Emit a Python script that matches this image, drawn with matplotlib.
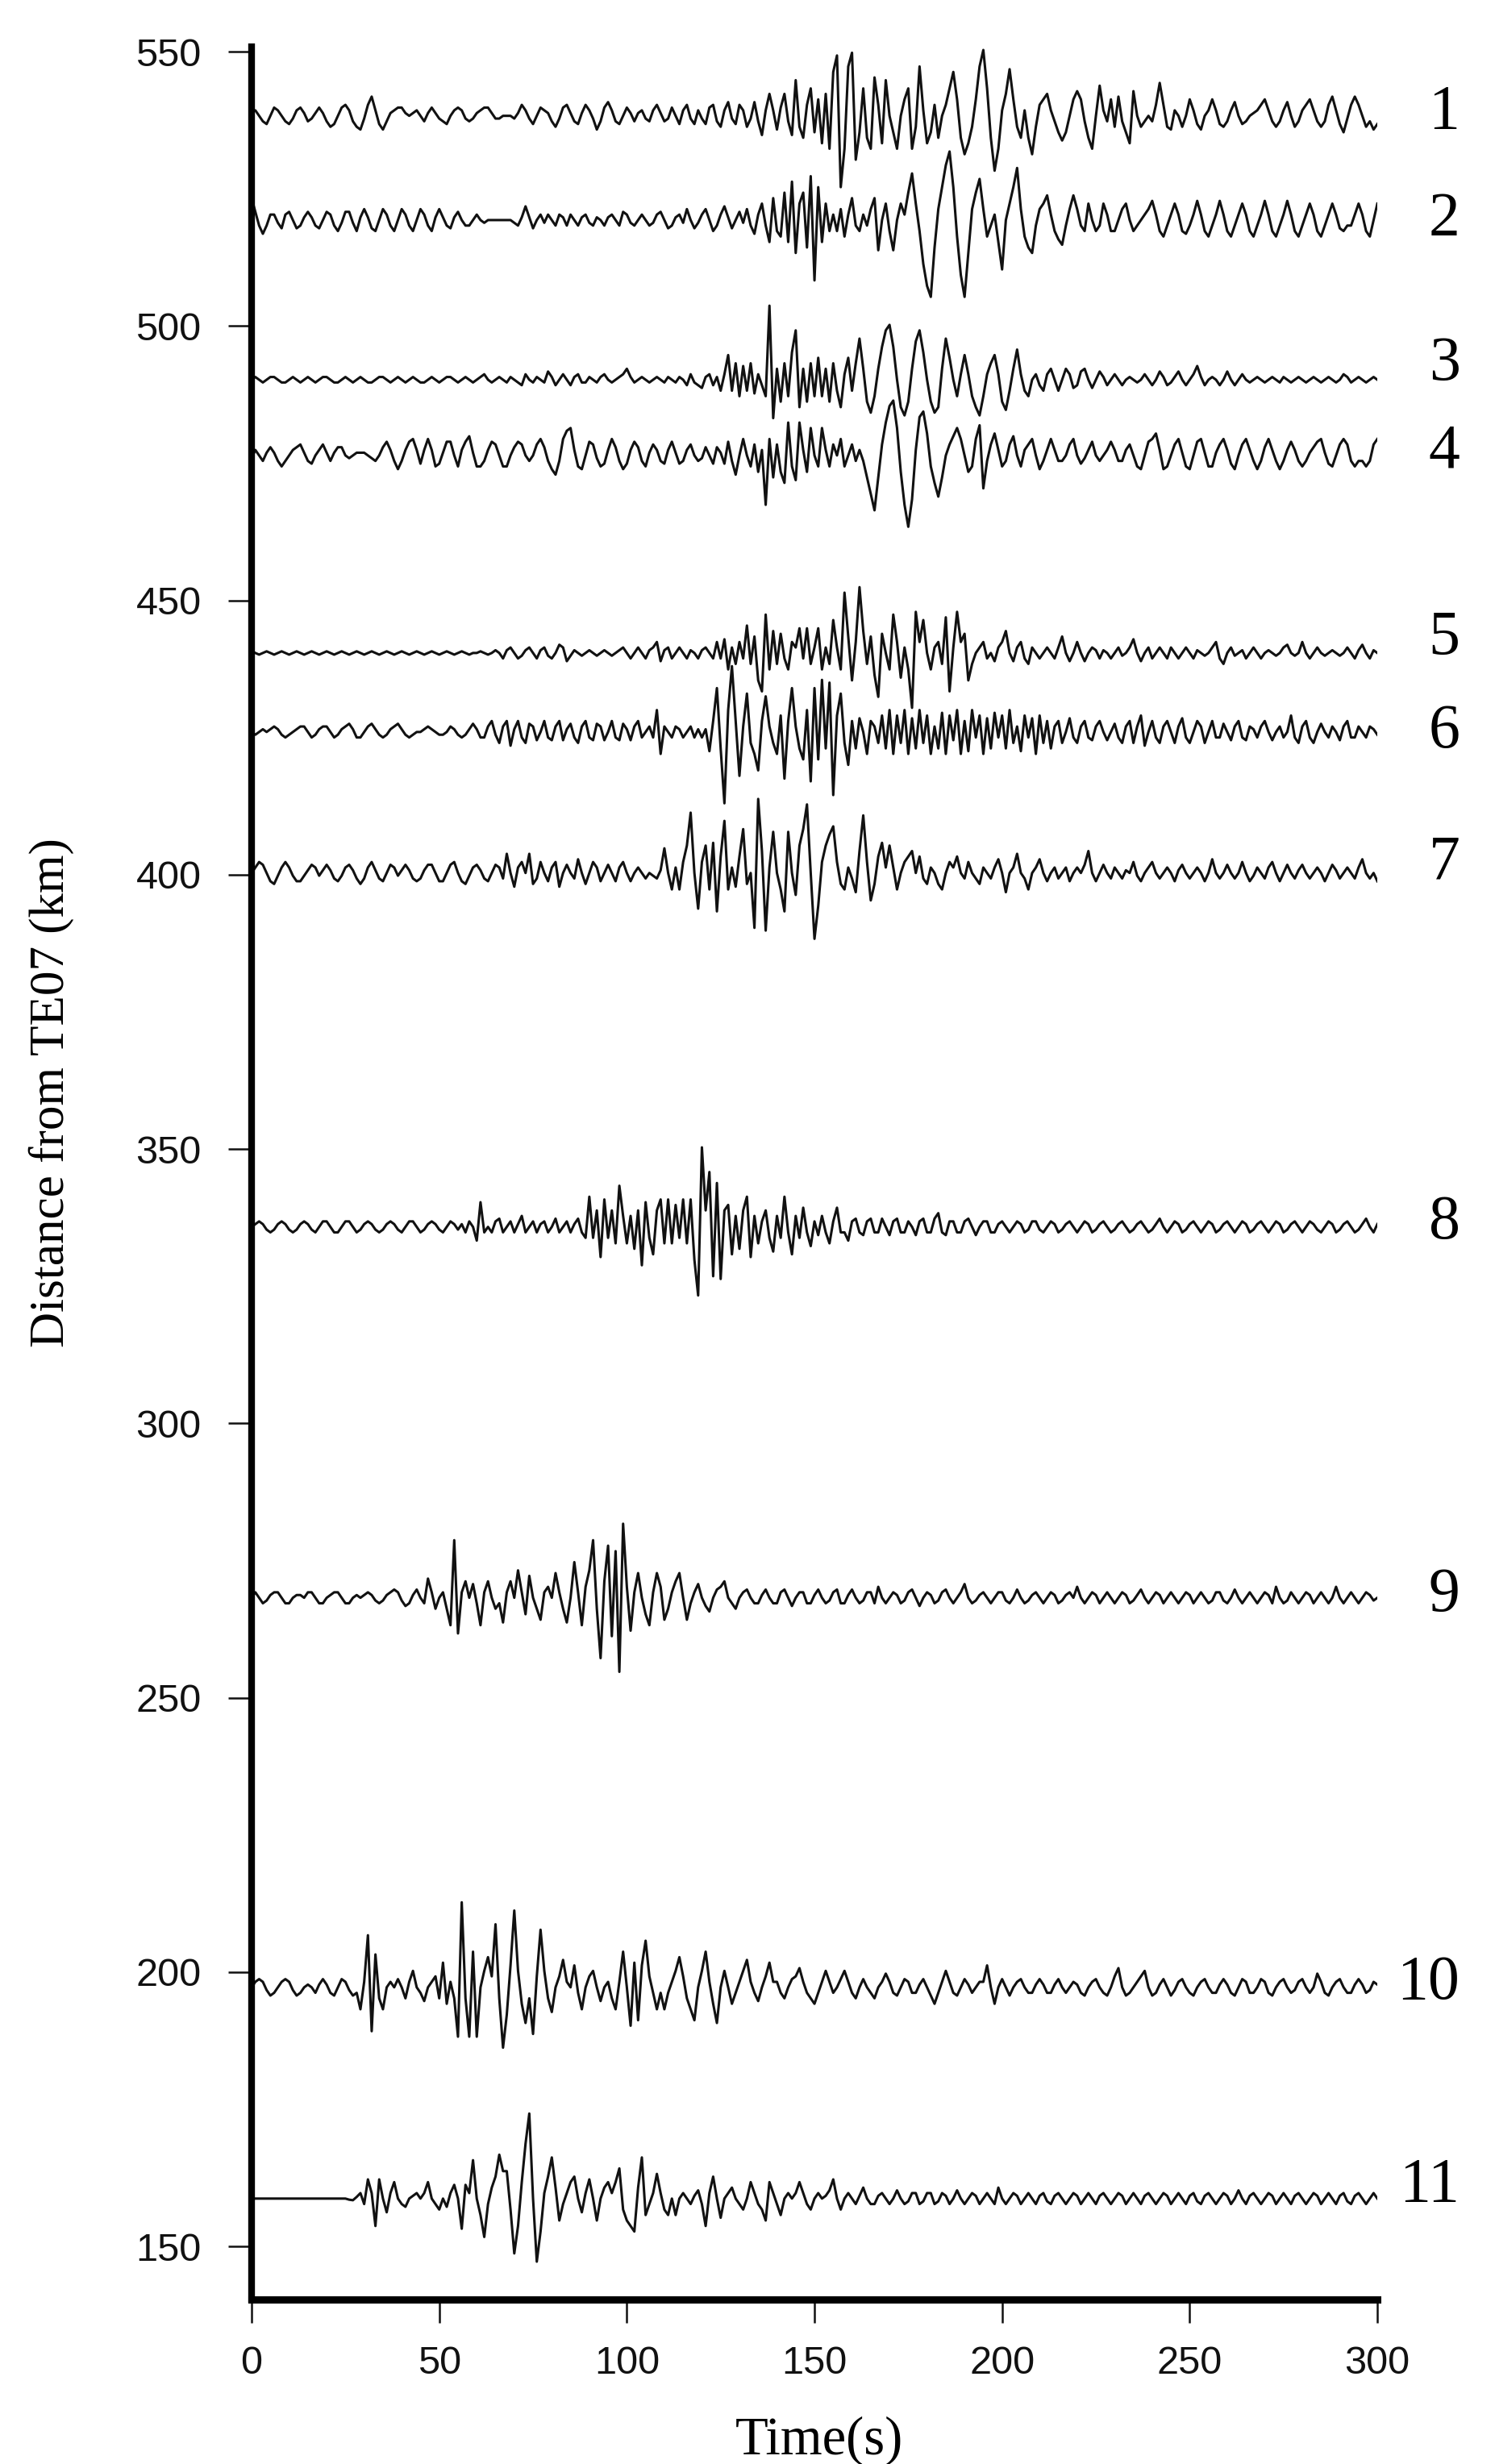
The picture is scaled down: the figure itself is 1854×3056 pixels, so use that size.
import numpy as np
import matplotlib
matplotlib.use("Agg")
import matplotlib.pyplot as plt

# station baselines (km) and label positions
offsets = [538.3, 519.3, 490.2, 476.4, 440.4, 426.0, 400.3, 335.8, 268.2, 197.2, 158.7]
names = ['1', '2', '3', '4', '5', '6', '7', '8', '9', '10', '11']
name_y = [538.8, 519.3, 493.0, 477.0, 443.0, 426.0, 402.0, 336.5, 268.6, 197.9, 161.0]

xticks = [0, 50, 100, 150, 200, 250, 300]
yticks = [150, 200, 250, 300, 350, 400, 450, 500, 550]

# trace deflections (km), one sample per second, t = 0..300 s
tr1 = [0.5, 1, 0, -1, -1.5, 0, 1.5, 1, 0, -1,
       -1.5, -0.5, 1, 1.5, 0.5, -1, -0.5, 0.5, 1.5, 0.5,
       -1, -2, -1.5, 0, 1.5, 2, 1, -1, -2, -2.5,
       -0.5, 2, 3.5, 1, -1.5, -2.5, -1, 0.5, 1, 1.5,
       1.5, 0.5, 0, 0.5, 1, 0, -1, 0.5, 1.5, 0.5,
       -0.5, -1, -1.5, 0, 1, 1.5, 1, -0.5, -1, -0.5,
       0.5, 1, 1.5, 1.5, 0.5, -0.5, -0.5, 0, 0, 0,
       -0.5, 0.5, 2, 1, -0.5, -1.5, 0, 1.5, 1, 0.5,
       -1, -2, -0.5, 1.5, 2, 0.5, -1, -1.5, 0.5, 2,
       1, -0.5, -2.5, -1, 1.5, 2.5, 1, -1, -1.5, 0,
       1.5, 0.5, -1, 0.5, 1, -0.5, -1, 1, 2, 0.5,
       -1, -0.5, 1.5, 0, -1.5, 1, 2, -0.5, -1.5, 1,
       -0.5, -1.5, 1.5, 2, -1, -2, 1, 2.5, -0.5, -1.5,
       2, 1, -2, -0.5, 2.5, -1, -3.5, 1, 4, 1,
       -2.5, 1.5, 4, -1, -3.5, 6.5, -2, -4, 2, 5,
       -3, 3, -5, 4, -6, 8, 11, -13, -6, 9,
       11.5, -8, -3, 5, -4, -6, 7, 2, -5, 6.5,
       0, -3, -6, 0, 3, 5, -6, -2, 9, 1,
       -5, -3, 2, -4, 0, 2, 5, 8, 3, -4,
       -7, -5, -2, 3, 9, 12, 5, -4, -10, -6,
       1, 4, 8.5, 3, -2, -4, 1, -4, -7, -2,
       2, 3, 4, 1, -1, -3, -4.5, -3, 0, 3,
       4.5, 3, -1, -4, -6, 0, 5.5, 1, -1, 3,
       -2, 3.5, -1, -3, -5, 4.5, 0, -2, -1, 0,
       -1, 2, 6, 2, -2, -2.5, 1, 0, -2, 0,
       3, 1, -1.5, -2.5, 0, 1, 3, 1, -1.5, -2,
       -1, 1, 2.5, 0, -1.5, -1, 0, 0.5, 1, 2,
       3, 1, -1, -2, -1, 1, 2.5, 0, -2, -1,
       1, 2, 3, 1, -1, -2, -1, 2, 3.5, 1,
       -1.5, -3, -0.5, 2, 3.5, 2, 0, -2, -1, -2.5,
       -1.5]

tr2 = [4, 1.5, -1, -2.5, -1, 1, 1, -0.5, -1.5, 1,
       1.5, 0, -1.5, -1, 0.5, 1.5, 0.5, -1, -1.5, 0,
       1.5, 1, -1, -2, -0.5, 1.5, 1.5, -0.5, -2, 0.5,
       2, 0.5, -1.5, -2, 0, 2, 1, -1, -2, 0,
       2, 1, -1, -2, 0, 2, 1, -1, -2, 0.5,
       2, 0.5, -1, -1.5, 0.5, 1.5, 0, -1, -1, 0,
       1, 0, -0.5, 0, 0, 0, 0, 0, 0, 0,
       -0.5, -1, 0.5, 2.5, 0.5, -1.5, 0, 1, -0.5, 1,
       0, -1, 1, 0.5, -1, 1, 0, -1, 0.5, 1,
       -0.5, -1, 0.5, 0, -1, 0.5, 1, 0, -1, 1.5,
       1, -0.5, -1, 0, 1, 0, -1, -0.5, 1, 1.5,
       0, -1.5, -1, 0.5, 1, -0.5, 2, 0, -1.5, -0.5,
       1, 2, 0, -2, -1, 1, 2.5, 0.5, -1.5, 0,
       1.5, -0.5, 2, -1, -2.5, 1, 3, -1, -4, 4,
       -2, -3, 5, -4, 7, -6, 3, 5, -5, 8,
       -11, 6, -4, 3, -2, 1, -2, 2, -3, 1,
       4, -1, -2, 1, -1, 2, 4, -5.5, 0, 3,
       -2, -5.5, 0, 3, 1, 5, 8.5, 3, -2, -8,
       -12, -14, -5, 2, 6, 10, 12.5, 6, -3, -10,
       -14, -6, 2, 5, 7.5, 2, -3, -1, 1, -4,
       -9, 0, 3, 6, 9.5, 2, -3, -5, -6, -1,
       2, 3, 4.5, 1, -2, -3.5, -4.5, -1, 2, 4.5,
       2, -1, -2, 3, 0, -2, -1, 3, 1, -2,
       -2, 0, 2, 3, 0, -2, -1, 0, 1, 2,
       3.5, 1, -2, -3, -1, 1, 3, 1, -2, -2.5,
       -1, 1, 3.5, 1, -2, -3, -1, 1, 3.5, 1,
       -2, -3, -1, 1, 3, 1, -2, -3, -1, 1,
       3.5, 1, -2, -3, -1, 1, 3.5, 1, -2, -3,
       -1, 1, 3, 1, -2, -3, -1, 1, 3, 1,
       -1.5, -2, -1, -1, 1, 3, 1, -2, -3, 0,
       3]

tr3 = [0, 0.5, 0, -0.5, 0, 0.5, 0.5, 0, -0.5, -0.5,
       0, 0.5, 0, -0.5, 0, 0.5, 0, -0.5, 0, 0.5,
       0.5, 0, -0.5, -0.5, 0, 0.5, 0, -0.5, 0, 0.5,
       0, -0.5, -0.5, 0, 0.5, 0.5, 0, -0.5, 0, 0.5,
       0, -0.5, 0, 0.5, 0, -0.5, -0.5, 0, 0.5, 0,
       -0.5, 0, 0.5, 0.5, 0, -0.5, 0, 0.5, 0, -0.5,
       0, 0.5, 1, 0, -0.5, 0, 0.5, 0, -0.5, 0.5,
       0, -0.5, -1, 1, 0, -0.5, 0.5, 0, -0.5, 1.5,
       0.5, -1, 0, 1, 0, -1, 0.5, 1, -0.5, -0.5,
       0.5, 0, -0.5, 0.5, 1, 0, -0.5, 0, 0.5, 1,
       2, 0.5, -0.5, 0, 0.5, 0, -0.5, 0, 0.5, 0,
       -0.5, 0.5, 0, -0.5, 0.5, 0, -1, 1, -0.5, -1,
       -1.5, 0.5, 1, -1, 0.5, -2, 1, 4.5, -2, 3,
       -3, 2.5, -2, 3, -2.5, 1, -1, -3, 13.5, -7,
       2, -4, 3, -3, 5, 9, -5, 2, -4, 3,
       -3, 4, -3, 2, -4, 3, -2, -5, 1, 4,
       -2, 3, 7.5, 2, -4, -6, -3, 2, 6, 9,
       10, 6, 0, -5, -6.5, -4, 2, 7, 9, 5,
       0, -4, -6, -5, 2, 7.5, 4, 0, -3, 1,
       4.5, 1, -3, -5, -6.5, -3, 1, 3, 4.5, 1,
       -4, -5.5, -2, 2, 5.5, 1, -2, -3, 0, 1,
       -1, -2, 1, 2, 0, -2, 0, 2, 1, -1.5,
       -1, 1.5, 2, 0, -1.5, 0, 1.5, 0.5, -1, 0,
       1, 0, -1, 0, 0.5, 0, -0.5, 0, 1, 0,
       -1, 0, 1.5, 0.5, -1, -0.5, 0.5, 1.5, 0, -1,
       0, 1, 2.5, 0.5, -1, 0, 0.5, 0, -1, 0,
       1.5, 0, -1, 0, 1, 0, -0.5, 0, 0.5, 0,
       -0.5, 0, 0.5, 0, -0.5, 0.5, 0, -0.5, 0, 0.5,
       0, -0.5, 0, 0.5, 0, -0.5, 0, 0.5, 0, -0.5,
       0, 1, 0.5, -0.5, 0, 0.5, 0, -0.5, 0, 0.5,
       0]

tr4 = [-0.5, 1, 0, -1, 0.5, 1.5, 0.5, -1, -2, -1,
       0, 1, 1.5, 2, 0.5, -1, -1.5, 0, 1, 2,
       0.5, -1, 0.5, 1.5, 1.5, 0, -0.5, 0, 0.5, 0.5,
       0.5, 0, -0.5, -1, 0, 1.5, 2.5, 1, -1, -2.5,
       -1, 1, 2.5, 3, 1, -1.5, 1, 3, 1, -2,
       -1.5, 0.5, 2.5, 2.5, 0, -2, 1, 2.5, 3.5, 0.5,
       -2, -2, -1, 1, 2.5, 2, 0, -2, -2, 0,
       1.5, 2.5, 2, 0, -1, 0, 2, 3, 1.5, -1,
       -2.5, -3.5, -1, 3, 4.5, 5, 1, -2, -2.5, 0,
       2.5, 2, -0.5, -2, -1.5, 1, 3, 1.5, -1, -2.5,
       -1.5, 1, 2.5, 1.5, -1, -2, 0.5, 2, 1, -1,
       -1.5, 1, 2.5, 0.5, -1.5, -1, 1, 2, 0, -1,
       -0.5, 1.5, 0, -1.5, 1.5, 0.5, -1.5, 2.5, -1, -3.5,
       0, 3, 0, -2, 2, -3, 1, -9, 3, -4,
       2, -3, -5, 6, -2, -4.5, 6, 1, -3, 5,
       0, -2, 5, 1, -2, 2, 0, 3, -2, 0,
       2, -1, 1, -1, -4, -7, -10, -4, 2, 6,
       9, 10, 5, -3, -9, -13, -8, 1, 7, 8,
       4, -2, -5, -7.5, -4, 0, 2, 3.5, 5, 3,
       0, -3, -2, 3, 5.5, -6, -1, 2, 4, 1,
       -2, -1, 2, 3.5, 0, -2, 1, 2, 3, 0,
       -2.5, -1, 1, 3, 1, -1, -1, 0, 2, 3,
       0, -1.5, -0.5, 1, 2.5, 0, -1, 0, 1, 2.5,
       1, -1, -1, 1, 2, 0, -2, -2.5, 0, 2.5,
       3, 4, 1, -2.5, -2, 0, 2, 3, 0.5, -2,
       -2.5, 0, 2.5, 3, 0.5, -2, -2, 0.5, 2, 3,
       1, -1.5, -2.5, 0, 2, 3, 1, -1, -2.5, -1,
       1.5, 3, 1, -1, -2.5, -1, 1, 2.5, 1, -1,
       -2, -1, 0.5, 1.5, 2.5, 3, 0.5, -1.5, -2, 0,
       2, 3, 2, -1, -2, -1, -1, -2, -1, 2,
       3]

tr5 = [0.3, 0, -0.3, 0, 0.3, 0, -0.3, 0, 0.3, 0,
       -0.3, 0, 0.3, 0, -0.3, 0, 0.3, 0, -0.3, 0,
       0.3, 0, -0.3, 0, 0.3, 0, -0.3, 0, 0.3, 0,
       -0.3, 0, 0.3, 0, -0.3, 0, 0.3, 0, -0.3, 0,
       0.3, 0, -0.3, 0, 0.3, 0, -0.3, 0, 0.3, 0,
       -0.3, 0, 0.3, 0, -0.3, 0, 0.3, 0, -0.3, 0,
       0, 0.3, 0, -0.3, 0, 0.5, 0, -1, 0.5, 1,
       0, -1, -0.5, 0.5, 1, 0, -1, 0.5, 1, -0.5,
       -1, 0, 1.5, 1, -1.5, -0.5, 0.5, 0, -0.5, 0,
       0.5, 0, -0.5, 0, 0.5, 0, -0.5, 0, 0.5, 1,
       0, -1, 0, 1, 0, -1, 0.5, 1, 2, -1.5,
       0.5, 1, -1, 0, 1, 0, -1, 0.5, 0, -1,
       0.5, 1, 0, -1, 2, -1, 2.5, -3, 1, -2,
       2, -1, 5, -2, 3, -5, -7, 7, -3, 4,
       -2, 3.5, -1, -3, 2, 1, 4.5, -1, 4.5, -2,
       1, 4.5, -3, 1, -2, 6, 1, -3, 11, 3,
       -5, 2, 12, 4, -2, 3, -4, -8, 3.5, 0,
       -3, 7, 2, -4.5, 1, -3, -10, 7.5, 2, 6,
       0, -3, 1, 2, -2, 6.5, -7, 1, 7.5, 2,
       3.5, -5, -2, 0, 1, 2, -1, 0, -1.5, 1,
       2, 4, 0, -1.5, 1, 2, -1, -2, 1, 0,
       -1, 0, 1, 0, -1, 1, 3, 0, -1.5, 0,
       2, 0, -1.5, 0, 1, 0.5, -1, 0.5, 0, -1,
       0, 1, -0.5, 0, 1, 2.5, 0, -1.5, 0, 1,
       -1, 0, 1, 0, -1, 1, 0, -1, 0, 1,
       0, -1, 0.5, 0, -0.5, 0, 1, 2, -1, -2,
       0, 1, -0.5, 0, 0.5, -1, 0, 1, 0, -1,
       0, 0.5, 0, -0.5, 0, 1, 1.5, 0, -0.5, 0,
       2, 0, -1, 0, 1, 0, -0.5, 0, 0.5, 0,
       -0.5, 0, 1, 0, -1, 0.5, 1.5, 0, -1, 0.5,
       0]

tr6 = [0, -0.5, 0, 0.5, 0, 0.5, 1, 0.5, -0.5, -1,
       -0.5, 0, 0.5, 1, 1, 0, -1, -0.5, 0.5, 1,
       1, 0, -1, -0.5, 0.5, 1, 1.5, 0.5, -1, -1,
       0, 1, 1.5, 0.5, -0.5, -1, -0.5, 0.5, 1, 1.5,
       0.5, -0.5, -1, -0.5, 0, 0, 0.5, 1, 0.5, 0,
       -0.5, -0.5, 0, 1, 0.5, -0.5, -1, -0.5, 0.5, 1.5,
       0.5, -1, -1, 1, 2, -0.5, -2, 1, 2, -2.5,
       0.5, 2, -1, -2, 1.5, 1, -1.5, 0, 2, -1,
       -1.5, 1, 2, -1.5, 0.5, 1.5, -1, -2, 1, 2,
       -1, -1.5, 1.5, 1, -1.5, 0, 2, -1, -1.5, 1.5,
       0.5, -1.5, 1, 2, -1, 0, 1, -1, 4, -4,
       1, 0, -1, 1, 0.5, -1, 0, 1, -1, 0.5,
       -1, 0.5, -3.5, 2, 8, -3, -13, 4, 12, 2,
       -8, 1, 7, -2, -4, -7, 2, 6.5, 1, -2,
       -4, 3, -8.5, 2, 8, 1, -3, -5, 4, -9,
       8, -5, 9.5, -3, 9, -11.5, 3, 7, -2, -6,
       2, -3, 2.5, 0, -4, 2, 1, -2, 3, -3,
       4, -4, 3, -2, 4, -4, 2.5, -3, 4, -2,
       3, -4, 1, -3, 3.5, -4, 3, -1.5, 4, -4,
       2, -3.5, 4, -1, 3, -4, 2.5, -3, 3.5, -1,
       3, -3, 4, -2, 1, -3.5, 3, -1, 2.5, -4,
       3, -2, 2, -3, 1, 2, -2, 0, 2.5, -1,
       -2, 1, 2, -1, -1.5, 1, 2, 0, -1.5, 0,
       1.5, -1, -2, 1, 2, -2, 1, 3, -2.5, 0,
       2, -1, -2, 1, 2, 0, -2, 1, 2.5, -1,
       -2, 0, 2, 1, -2, 0, 2, -1, -1, 1.5,
       0, -1.5, 1, 2, -1, -1.5, 1, 0.5, -1, 1,
       2, 0, -1.5, 0, 1, -1, 0, 3, -1, -2,
       1, 2, -1, -2, 0, 1.5, 0, -1, 1, 0,
       -1.5, 1, 2, -1, -1, 1, 0, -1, 1, 0.5,
       -0.5]

tr7 = [0, 1, 2, 1.5, 0, -1.5, -2, -0.5, 1, 2,
       1, -0.5, -1.5, -1.5, -0.5, 0.5, 1.5, 1, -0.5, 0.5,
       1.5, 0.5, -1, -1.5, -0.5, 1, 1.5, 0.5, -1, -2,
       -1, 1, 2, 0.5, -1, -1.5, 0, 1.5, 1, -0.5,
       0.5, 1.5, 0.5, -1, -1.5, -1, 0.5, 1.5, 1.5, 0,
       -1.5, -1.5, 0, 1.5, 2, 0, -1.5, -2, -0.5, 1,
       1.5, 0.5, -1, -1.5, 0, 1.5, 1, -1, 3.5, 0,
       -2.5, 1, 2, 0, 3.5, -2, -1, 2, 0, -1.5,
       1, 2, -2.5, 0, 1.5, 0, -1, 2.5, 0, -2,
       0, 2, 1, -1.5, 0, 1.5, 0, -1.5, 1, 2,
       0, -1.5, 0, 1, 0, -1, 0, -0.5, -1, 0.5,
       4.5, 0, -3, 1, -3, 2, 5, 11, 0, -6.5,
       2, 5, -3, 5.5, -7, 3, 9.5, -3, 1, -2.5,
       3, 8, -2, 0, -10, 13.5, 4, -10.5, 1, 7.5,
       0, -3, -7, 7.5, 0, -4, 5, 8, 12.5, 0,
       -12, -6, 2, 5, 7, 8.5, 2, -2, -3, 1,
       -1, -3.5, 4, 10.5, 2, -5, -2, 3, 5.5, 1,
       5, 1, -3, 0, 2, 3, 4, 0, 3, -1,
       -2, 1, 0, -2, -3, 0, 2, 1, 3, 0,
       -1, 2, 0, -1, -2, 1, 0, -1, 1, 2.5,
       0, -3.5, 0, 1, 3.5, 0, -1, -3, 0, 1,
       2.5, 0, -1.5, 0, 1, -1, 0, 1, -1.5, 0,
       1, 0, 1.5, 4, 0, -1.5, 0, 1.5, 0, -1,
       1, 0, -1, 0.5, 0, 2, -0.5, -1.5, 0, 1,
       2, 0, -1, 0, 1, 0, -1.5, 0.5, 1.5, 0,
       -1, 0, 1, 0, -1.5, 0, 2.5, 0, -1, 0,
       1.5, 0, -1, 0, 2, 0, -1.5, -0.5, 1, 0,
       -1, 1, 2, 0, -1.5, 0, 1.5, 0, -1, 0.5,
       1.5, 0, -1, 0, 1, 0, -1.5, 0, 1.5, 0.5,
       -1, 0, 1, 0, -1, 1, 2.5, 0, -1, 0,
       -1.5]

tr8 = [0, 0.5, 1, 0.5, -0.5, -1, -0.5, 0.5, 1, 0.5,
       -0.5, -1, -0.5, 0.5, 1, 0.5, -0.5, -1, 0, 1,
       1, 0, -1, -1, 0, 1, 1, 0, -1, -0.5,
       0.5, 1, 0.5, -0.5, -1, -0.5, 0.5, 1, 0.5, -0.5,
       -1, 0, 1, 1, 0, -1, -0.5, 0.5, 1, 0.5,
       -0.5, -1, 0, 1, 0.5, -0.5, 0.5, -1, 1, 0,
       -2.5, 4.5, -1, 0, -1, 1, 1.5, -1, 0, 1,
       -1, 0.5, 2, -1, 0, 1, -1, 0.5, 1, -1,
       0, 1.5, -1, 0, 1, -1, 0.5, 1.5, -1, -2,
       5.5, -2, 3, -5.5, 5, -2, 3, -3, 7.5, 2,
       -3, 2, -4, 3, -7, 4.5, -2, -5, 3, 5,
       -3, 5, -3, 4, -2, 5, -3, 5, -6, -12.5,
       14.5, 3, 10, -9, 8, -9.5, 3, 4, -5, 2,
       -4, 3, 5.5, -5.5, 2, -3, 1, 3, -2, -4.5,
       2, -2, 5.5, -1, -5, 2, -2, 3.5, -1, -3.5,
       1, -1.5, 2, -1, -3, 1, 3.5, -1, -1, -2.5,
       1, 1.5, -1, -1.5, 1, 1.5, -1, -1, 1.5, 0,
       -1.5, 1, 1.5, -1, -1, 1, 0, -1.5, 1, 1.5,
       -1, -1, 1.5, 2.5, -1, -1.5, 1, 1, -1, -1,
       1, 1.5, 0, -1.5, 0, 1, 1, -1, -1, 0.5,
       1, 0, -1, 0, 1, 0.5, -1, -0.5, 1, 1,
       -0.5, -1, 0, 1, 0.5, -1, -0.5, 0.5, 1, 0,
       -1, 0, 1, 0.5, -1, -0.5, 0.5, 1, 0, -1,
       -0.5, 0.5, 1, 0, -1, -0.5, 0.5, 1, 0, -1,
       -0.5, 0.5, 1.5, 0, -1, 0, 1, 0.5, -1, -0.5,
       0.5, 1, 0, -1, 0, 1, 0.5, -1, -0.5, 0.5,
       1, 0, -1, 0, 1, 0.5, -1, -0.5, 0.5, 1,
       0, -1, 0, 1, 0.5, -1, -0.5, 0.5, 1, 0,
       -1, 0, 1, 0.5, -0.5, -1, 0, 1, 0.5, -1,
       -0.5, 0.5, 1, 0, -1, -0.5, 0.5, 1.5, 0, -1,
       0.5]

tr9 = [0, 1, 0, -1, -0.5, 0.5, 1, 1, 0, -1,
       -1, 0, 0.5, 0.5, 0, 1, 1, 0, -1, -1,
       0, 0.5, 1, 1, 0, -1, -1, 0, 0.5, 0,
       0.5, 1, 0.5, -0.5, -1, -0.5, 0.5, 1, 1.5, 1,
       -0.5, -1.5, -1, 0.5, 1.5, 0, -1, 3.5, 1, -2,
       0, 1, -2, -5, 10.5, -6.5, 1, 3, 0, 2.5,
       -1, -5, 1, 3, 0, -2, -1, -4.5, 1, 3,
       0, 5, 1, -3, 4, 0, -2, -4, 1, 2,
       0, 4.5, 1, -2, -4.5, 0, 6.5, 1, -5, 2,
       5, 10.5, -2, -11, 3, 9.5, -7, 8.5, -13.5, 13.5,
       2, -6, 1, 4.5, 0, -3, -5, 1, 4.5, 2,
       -4, -2, 1, 3, 4.5, 0, -4, -1, 1, 2.5,
       0, -1.5, -2.5, 0, 1.5, 2, 3, 0, -1, -2,
       0, 1, 1.5, 0, -1, -1, 0.5, 1.5, 0, -1,
       -1, 1, 1.5, 0, -1.5, 0, 1, 1, -1, -1,
       0.5, 1.5, 0, -1, -0.5, 1, 1.5, -1, -1, 0.5,
       1.5, 0, -1, -0.5, 1, 1, -1, 2, 0, -1,
       0, 1, 0.5, -1, -0.5, 1, 1.5, 0, -1.5, 0,
       1, 0.5, -1, -0.5, 1, 1.5, 0, -1, 0, 1,
       2.5, 0, -1, -0.5, 0.5, 1, 0, -1, 0, 1,
       1, -0.5, -1, 0, 1.5, 0, -1, -0.5, 0.5, 1,
       0, -1, 0, 1, 0.5, -1, -0.5, 0.5, 1, 0,
       2, 0, -1, 0, 1, 0.5, -1, 0, 1, 0,
       -1, 0, 1, 0.5, -1, -0.5, 0.5, 1.5, 0, -1,
       0, 1, 0.5, -1, 0, 1, 0, -1, 0, 1,
       0.5, -1, 0, 1, 0, -1, -0.5, 1, 1, -0.5,
       -1, 0, 1.5, 0, -1, 0, 1, 0, -1, 0,
       1, 0.5, -1, 2, 0, -1, -0.5, 1, 0, -1,
       0, 1, 0.5, -1, 0, 1, 0, -1, 0, 2,
       0, -1, 0, 1, 0, -1, 0, 1, 0.5, -0.5,
       0]

tr10 = [0, 1, 1.5, 1, -0.5, -1.5, -1, 0, 1, 1.5,
        1, -0.5, -1.5, -1, 0, 0.5, 0, -1, 0.5, 1.5,
        0.5, -1, -1.5, 0, 1.5, 1, -0.5, -1.5, -1, -4,
        1, 9.5, -8, 6, -2, -4, 0, 1, 0, 1.5,
        0, -2, 1, 3, 0, -1, -2.5, 0, 1, 2,
        -2, 4.5, -3, 1, -2, -9, 15.5, -2, -9, 6.5,
        -9, 0, 3, 5.5, 2, 11.5, -2, -11, -5, 4,
        14, 3, -3, -6.5, -2, -8.5, 2, 10.5, 3, -2,
        -4.5, 0, 2, 5, 1, 0, 4, -1, -4, 0,
        2, 3, 0, -2.5, 0, 1, -2, -4, 1, 6.5,
        0, -7, 4.5, -6, 4, 8.5, 2, -1, -4, -1,
        -4, -1, 1, 3, 5.5, 2, -2, -4, -6, 0,
        3, 6.5, 1, -3, -6.5, 0, 3, 0, -3, -1,
        1, 3, 5, 1, -1, -2.5, 0, 2, 4.5, 1,
        1, -1, -2, 0, 1.5, 2, 3.5, 1, -1, -2,
        -3, -1, 1, 3, 1, -1, 0, 1.5, 3, 1,
        -1, -2, 0, 1.5, 0, -1, -2, 0, 1, 2.5,
        1, -1, -1.5, 0, 1.5, 1, -1, -1, 0.5, 1.5,
        0, -1.5, -3, -1, 1, 3, 1, -1, -1.5, 0,
        1.5, 0.5, -1, 0, 1, 1, 4, 0, -3, 0,
        1.5, 0, -1.5, 0, 1, 1.5, 0, -1, -1, 0.5,
        1.5, 0.5, -1, -1, 0.5, 1.5, 0, -1, 0, 1,
        0.5, -1, -1.5, 0, 1, 1.5, 0, -1, -1.5, 0,
        2, 3.5, 0, -1.5, -1, 0, 1, 2, 3, 0,
        -1.5, -1, 0.5, 1.5, 0, -1.5, -0.5, 1, 1.5, 0,
        -1, -1.5, 0, 1, 1.5, 0, -1, -1, 0.5, 1.5,
        0.5, -1, -1.5, 0, 1.5, 1, -1, -1, 0, 1.5,
        1, -1, -1.5, 0, 1, 1.5, 0, -1, -0.5, 1,
        1.5, 0, -1, 0, 2.5, 1, -1, -1.5, 0, 1,
        1.5, 0, -1, -1, 0.5, 1.5, 0.5, -1, -0.5, 1,
        0.5]

tr11 = [0, 0, 0, 0, 0, 0, 0, 0, 0, 0,
        0, 0, 0, 0, 0, 0, 0, 0, 0, 0,
        0, 0, 0, 0, 0, 0, -0.2, -0.3, 0.3, 1,
        -1, 3.5, 1, -5, 3.5, 0, -2.5, 1, 3, 0,
        -1, -1.5, 0, 0.5, 1, 0, 1, 3, 0, -1,
        -2, 0, -1.5, 1, 2.5, 0, -5.5, 2.5, 1, 7,
        0, -3, -7, -1, 2, 4, 8, 5, 5, -2,
        -10, -5, 3, 10, 15.5, 0, -11.5, -6, 1, 4,
        7.5, 2, -4, -1, 1, 3, 4, 0, -2.5, 1,
        3.5, 0, -4, 0, 2, 3, 1, 3, 5.5, -2,
        -4, -5, -6, 2, 7.5, -3, -1, 1, 4.5, 1,
        -2, -3, 0, -3, 0, 1, 0, -1, 0.5, 1.5,
        -1, -5, 1, 4, 0, -3.5, 0, 1, 2, 0,
        -1, -2, 0, 3, 1, -1, -2, -4, 3, 1,
        -1, -3, 0, 1, 0, 1, 3, 1, -1, -2,
        0, 1, 0, 0.5, 1.5, 3.5, 0, -2, 0, 1,
        0, -1, 0.5, 2, 0, -1, -1, 0.5, 1, 0,
        -1, 0, 1.5, 0, -1, -0.5, 1, 1, -1, -0.5,
        1, 1, -1, -0.5, 1, 0.5, -1, 0, 1.5, 0,
        -1, 0, 1, 0.5, -1, 0, 1, 0, -1, 2,
        0, -1, 0, 1, 0.5, -1, 0, 1, 0, -1,
        0.5, 1, -0.5, -1, 0.5, 1, 0, -1, 0, 1,
        0.5, -1, 0, 1, 0, -1, 0.5, 1, 0, -1,
        0, 1, 0.5, -1, 0, 1, 0, -1, 0.5, 1,
        0, -1, 0, 1, 0.5, -1, 0, 1, 0, -1,
        0.5, 1, -0.5, -1, 0.5, 1, 0, -1, 0, 1,
        0.5, -1, 0, 1.5, 0, -1, 0.5, 1, 0, -1,
        0, 1, 0.5, -1, 0, 1, 0, -1, 0.5, 1,
        0, -1, 0, 1, 0.5, -1, 0, 1, 0, -1,
        0.5, 1, -0.5, -1, 0.5, 1, 0, -1, 0, 1,
        0]

traces = [tr1, tr2, tr3, tr4, tr5, tr6, tr7, tr8, tr9, tr10, tr11]

fig = plt.figure(figsize=(18.54, 30.56), dpi=100)
ax = fig.add_axes([0.1683, 0.06675, 0.753, 0.9143])

for base, tr in zip(offsets, traces):
    tr = np.asarray(tr, dtype=float)
    t = np.arange(len(tr))
    ax.plot(t, base + tr, color='#111111', lw=2.2, solid_joinstyle='round')

for name, y in zip(names, name_y):
    ax.text(322, y, name, ha='right', va='center', fontsize=56,
            family='Liberation Serif', clip_on=False)

ax.set_xlim(0, 300)
ax.set_ylim(140.3, 550.9)
ax.set_xticks(xticks)
ax.set_yticks(yticks)
ax.spines['top'].set_visible(False)
ax.spines['right'].set_visible(False)
ax.spines['left'].set_linewidth(6)
ax.spines['bottom'].set_linewidth(6.5)
ax.tick_params(axis='both', length=21, width=1.8, direction='out',
               labelsize=35, colors='#111111')
ax.tick_params(axis='y', pad=24)
ax.tick_params(axis='x', pad=20)
for lab in ax.get_xticklabels() + ax.get_yticklabels():
    lab.set_family('Liberation Sans')

fig.text(0.0345, 0.5566, 'Distance from TE07 (km)', rotation=90,
         ha='center', va='center', fontsize=44, family='Liberation Serif')
fig.text(0.548, 0.0095, 'Time(s)', ha='center', va='center',
         fontsize=48, family='Liberation Serif')

fig.savefig('out.png', dpi=100)
